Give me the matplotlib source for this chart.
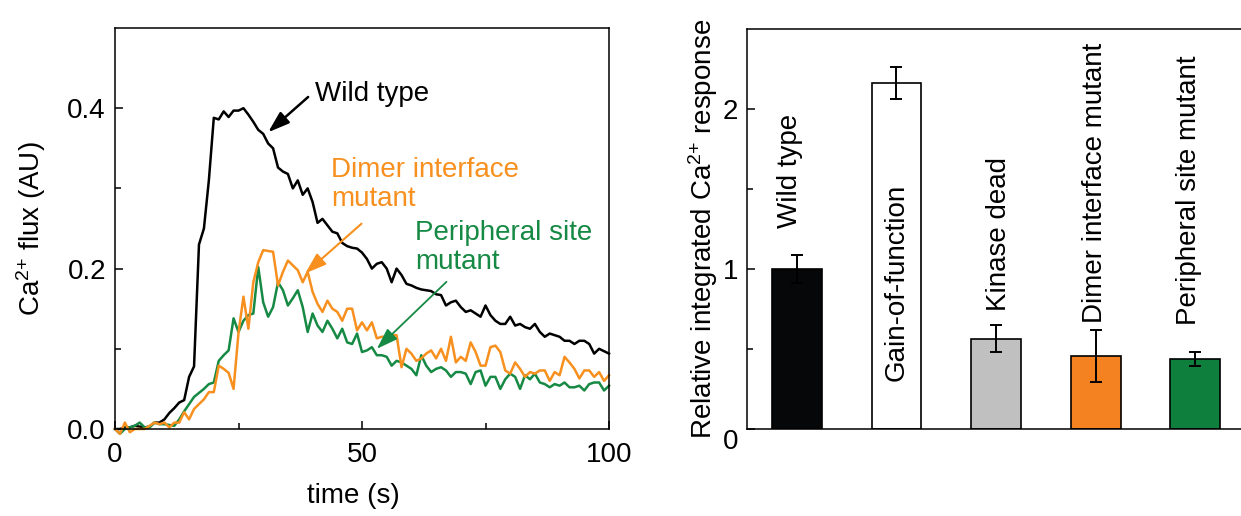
import numpy as np
import matplotlib
matplotlib.use("Agg")
import matplotlib.pyplot as plt
from matplotlib.ticker import FixedLocator, FormatStrFormatter

plt.rcParams['font.family'] = ['Liberation Sans', 'DejaVu Sans']
plt.rcParams['mathtext.fontset'] = 'custom'
plt.rcParams['mathtext.rm'] = 'Liberation Sans'
plt.rcParams['mathtext.default'] = 'regular'

# ---- time course data (one sample per second) ----
time_s = np.arange(0, 101)

wild_type = [0.000, 0.000, 0.002, 0.002, 0.004, 0.003, 0.002, 0.003, 0.008, 0.008,
             0.012, 0.020, 0.026, 0.033, 0.036, 0.065, 0.078, 0.230, 0.250, 0.310,
             0.388, 0.386, 0.396, 0.389, 0.397, 0.397, 0.400, 0.392, 0.383, 0.373,
             0.368, 0.356, 0.350, 0.326, 0.321, 0.318, 0.300, 0.310, 0.292, 0.300,
             0.283, 0.257, 0.262, 0.254, 0.246, 0.244, 0.232, 0.228, 0.226, 0.225,
             0.220, 0.212, 0.200, 0.206, 0.208, 0.200, 0.183, 0.200, 0.192, 0.181,
             0.179, 0.176, 0.174, 0.173, 0.172, 0.168, 0.167, 0.154, 0.158, 0.160,
             0.152, 0.146, 0.148, 0.144, 0.140, 0.154, 0.142, 0.135, 0.131, 0.131,
             0.140, 0.129, 0.131, 0.127, 0.125, 0.131, 0.121, 0.115, 0.119, 0.117,
             0.115, 0.110, 0.110, 0.106, 0.110, 0.110, 0.106, 0.094, 0.100, 0.097,
             0.094]

dimer_mutant = [0.000, -0.006, 0.008, -0.004, 0.000, 0.000, 0.000, 0.004, 0.008, 0.006,
                0.008, 0.002, 0.008, 0.008, 0.021, 0.012, 0.025, 0.031, 0.037, 0.046,
                0.046, 0.079, 0.075, 0.070, 0.050, 0.120, 0.165, 0.125, 0.183, 0.208,
                0.223, 0.222, 0.221, 0.179, 0.196, 0.210, 0.204, 0.198, 0.183, 0.196,
                0.171, 0.156, 0.146, 0.160, 0.150, 0.146, 0.135, 0.150, 0.150, 0.123,
                0.133, 0.123, 0.133, 0.113, 0.115, 0.115, 0.117, 0.117, 0.077, 0.100,
                0.094, 0.085, 0.088, 0.094, 0.098, 0.088, 0.100, 0.085, 0.115, 0.083,
                0.090, 0.085, 0.108, 0.096, 0.079, 0.079, 0.102, 0.104, 0.096, 0.073,
                0.069, 0.083, 0.075, 0.065, 0.071, 0.069, 0.073, 0.073, 0.060, 0.071,
                0.067, 0.090, 0.083, 0.075, 0.063, 0.073, 0.073, 0.065, 0.071, 0.060,
                0.067]

peripheral_mutant = [0.000, -0.006, 0.000, 0.002, 0.004, 0.008, 0.002, 0.002, 0.008, 0.006,
                     0.006, 0.005, 0.004, 0.012, 0.022, 0.031, 0.040, 0.045, 0.050, 0.056,
                     0.058, 0.085, 0.092, 0.098, 0.138, 0.121, 0.135, 0.142, 0.144, 0.202,
                     0.158, 0.140, 0.152, 0.183, 0.173, 0.154, 0.163, 0.173, 0.152, 0.121,
                     0.144, 0.129, 0.121, 0.135, 0.125, 0.113, 0.125, 0.108, 0.106, 0.119,
                     0.096, 0.098, 0.102, 0.092, 0.092, 0.090, 0.079, 0.085, 0.083, 0.079,
                     0.075, 0.067, 0.092, 0.079, 0.071, 0.075, 0.077, 0.073, 0.065, 0.071,
                     0.071, 0.069, 0.056, 0.071, 0.073, 0.054, 0.065, 0.065, 0.050, 0.062,
                     0.069, 0.065, 0.050, 0.067, 0.062, 0.069, 0.058, 0.056, 0.052, 0.056,
                     0.054, 0.058, 0.052, 0.052, 0.054, 0.048, 0.056, 0.058, 0.058, 0.048,
                     0.054]

# ---- integrated response bars ----
bar_names = ['Wild type', 'Gain-of-function', 'Kinase dead',
             'Dimer interface mutant', 'Peripheral site mutant']
bar_values = [1.00, 2.16, 0.565, 0.455, 0.435]
bar_errors = [0.09, 0.10, 0.083, 0.163, 0.044]

BLACK = '#000000'
ORANGE = '#F7901E'
GREEN = '#168A44'
bar_colors = ['#060708', '#FFFFFF', '#C0C0C0', '#F48221', '#0F7F3E']

FS = 20

fig = plt.figure(figsize=(12.41, 5.16), dpi=100)

# ================= left panel =================
ax1 = fig.add_axes([115 / 1241, 87 / 516, 494 / 1241, 401 / 516])
ax1.plot(time_s, wild_type, color=BLACK, lw=1.8, clip_on=False)
ax1.plot(time_s, peripheral_mutant, color=GREEN, lw=1.8, clip_on=False)
ax1.plot(time_s, dimer_mutant, color=ORANGE, lw=1.8, clip_on=False)
ax1.set_xlim(0, 100)
ax1.set_ylim(0, 0.5)
ax1.xaxis.set_major_locator(FixedLocator([0, 50, 100]))
ax1.xaxis.set_minor_locator(FixedLocator([25, 75]))
ax1.yaxis.set_major_locator(FixedLocator([0.0, 0.2, 0.4]))
ax1.yaxis.set_minor_locator(FixedLocator([0.1, 0.3]))
ax1.yaxis.set_major_formatter(FormatStrFormatter('%.1f'))
ax1.set_xlabel('time (s)', fontsize=FS)
ax1.set_ylabel('Ca$^{2{+}}$ flux (AU)', fontsize=FS)
ax1.xaxis.set_label_coords(0.482, -0.135)
ax1.yaxis.set_label_coords(-0.136, 0.5)

# annotations
ax1.text(40.4, 0.4175, 'Wild type', fontsize=FS, color=BLACK, ha='left', va='center')
ax1.annotate('', xy=(31.0, 0.370), xytext=(39.1, 0.414),
             arrowprops=dict(arrowstyle='-|>,head_length=0.65,head_width=0.22',
                             color=BLACK, lw=1.8, mutation_scale=20,
                             shrinkA=0, shrinkB=0))
ax1.text(43.7, 0.305, 'Dimer interface\nmutant', fontsize=FS, color=ORANGE,
         ha='left', va='center', linespacing=1.15)
ax1.annotate('', xy=(38.5, 0.194), xytext=(49.9, 0.256),
             arrowprops=dict(arrowstyle='-|>,head_length=0.65,head_width=0.22',
                             color=ORANGE, lw=1.5, mutation_scale=20,
                             shrinkA=0, shrinkB=0))
ax1.text(60.7, 0.2257, 'Peripheral site\nmutant', fontsize=FS, color=GREEN,
         ha='left', va='center', linespacing=1.15)
ax1.annotate('', xy=(53.0, 0.100), xytext=(67.1, 0.1835),
             arrowprops=dict(arrowstyle='-|>,head_length=0.65,head_width=0.22',
                             color=GREEN, lw=1.3, mutation_scale=20,
                             shrinkA=0, shrinkB=0))

# ================= right panel =================
ax2 = fig.add_axes([747 / 1241, 87 / 516, 498 / 1241, 400 / 516])
xpos = np.arange(1, len(bar_names) + 1)
ax2.bar(xpos, bar_values, width=0.5, color=bar_colors, edgecolor='black',
        linewidth=1.2, zorder=2)
ax2.errorbar(xpos, bar_values, yerr=bar_errors, fmt='none', ecolor='black',
             elinewidth=1.4, capsize=4, capthick=1.4, zorder=3)
ax2.set_xlim(0.5, 5.5)
ax2.set_ylim(0, 2.5)
ax2.set_xticks([])
ax2.yaxis.set_major_locator(FixedLocator([0, 1, 2]))
ax2.yaxis.set_minor_locator(FixedLocator([0.5, 1.5]))
ax2.set_ylabel('Relative integrated Ca$^{2{+}}$ response', fontsize=FS)
ax2.yaxis.set_label_coords(-0.055, 0.5)

label_x = [0.93, 2.005, 3.03, 3.99, 4.94]
label_y = [1.256, 0.298, 0.735, 0.662, 0.652]
for name, lx, ly in zip(bar_names, label_x, label_y):
    ax2.text(lx, ly, name, rotation=90, fontsize=FS, ha='center', va='bottom')

for ax in (ax1, ax2):
    for sp in ax.spines.values():
        sp.set_linewidth(1.1)
    ax.tick_params(which='both', direction='in', top=False, right=False,
                   width=1.1, labelsize=FS, pad=6.5)
    ax.tick_params(which='major', length=5.5)
    ax.tick_params(which='minor', length=4)

ax1.tick_params(axis='x', pad=9)
fig.canvas.draw()
zero_lbl = ax2.get_yticklabels()[0]
zero_lbl.set_va('top')

fig.savefig('out.png', dpi=100)
